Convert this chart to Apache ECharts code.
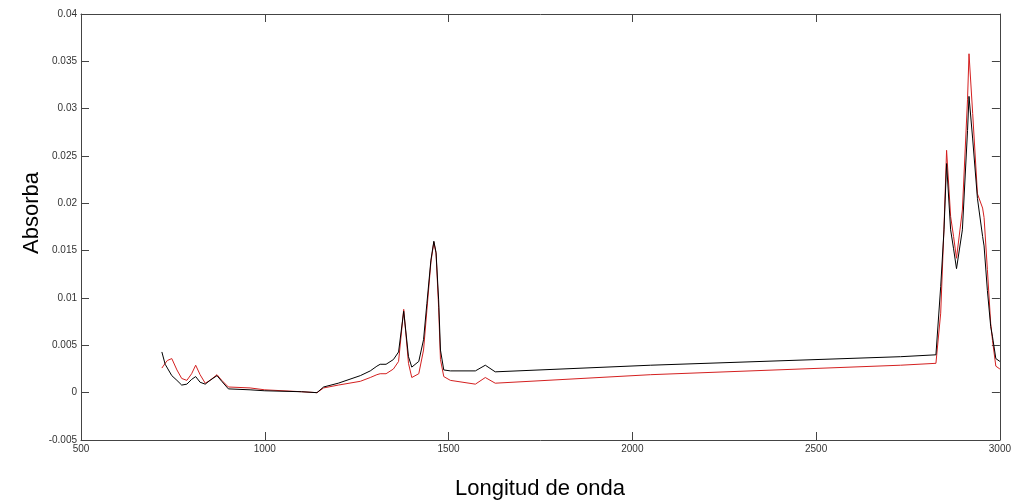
<!DOCTYPE html>
<html>
<head>
<meta charset="utf-8">
<script src="https://cdn.jsdelivr.net/npm/echarts@6/dist/echarts.min.js"></script>
<style>
  html, body { margin: 0; padding: 0; background: #fff; }
  #chart { width: 1014px; height: 500px; }
</style>
</head>
<body>
<div id="chart"></div>
<script>
// Wavenumber (Longitud de onda)
var wavenumber = [720, 729, 735, 747, 761, 774, 788, 801, 812, 824, 838, 851, 870, 883, 901, 960,
  1000, 1100, 1142, 1160, 1200, 1260, 1287, 1305, 1314, 1330, 1350, 1364, 1378, 1391, 1400, 1419,
  1432, 1441, 1452, 1460, 1466, 1473, 1478, 1487, 1505, 1573, 1600, 1627, 2050, 2730, 2826, 2839,
  2848, 2855, 2866, 2874, 2882, 2898, 2912, 2916, 2926, 2939, 2953, 2957, 2966, 2975, 2980, 2989, 3000];

// Black spectrum absorbance
var absorbanceBlack = [0.0043, 0.0030, 0.0026, 0.0018, 0.0013, 0.0008, 0.0009, 0.0014, 0.0017, 0.0011, 0.0009, 0.0013, 0.0018, 0.0012, 0.0004, 0.0003,
  0.0002, 0.0001, 0.0000, 0.0006, 0.0010, 0.0018, 0.0023, 0.0028, 0.0030, 0.0030, 0.0035, 0.0043, 0.0086, 0.0038, 0.0027, 0.0033,
  0.0056, 0.0094, 0.0140, 0.0160, 0.0148, 0.0098, 0.0045, 0.0024, 0.0023, 0.0023, 0.0029, 0.0022, 0.0029, 0.0038, 0.0040, 0.0112,
  0.0172, 0.0242, 0.0172, 0.0152, 0.0131, 0.0172, 0.0277, 0.0313, 0.0268, 0.0205, 0.0165, 0.0155, 0.0108, 0.0070, 0.0059, 0.0036, 0.0033];

// Red spectrum absorbance
var absorbanceRed = [0.0026, 0.0031, 0.0034, 0.0036, 0.0024, 0.0015, 0.0013, 0.0020, 0.0029, 0.0019, 0.0010, 0.0013, 0.0019, 0.0013, 0.0006, 0.0005,
  0.0003, 0.0001, 0.0000, 0.0005, 0.0008, 0.0012, 0.0016, 0.0019, 0.0020, 0.0020, 0.0025, 0.0033, 0.0088, 0.0031, 0.0016, 0.0020,
  0.0045, 0.0087, 0.0138, 0.0159, 0.0147, 0.0090, 0.0035, 0.0017, 0.0013, 0.0009, 0.0016, 0.0010, 0.0019, 0.0029, 0.0031, 0.0084,
  0.0175, 0.0256, 0.0186, 0.0165, 0.0142, 0.0193, 0.0310, 0.0358, 0.0295, 0.0210, 0.0195, 0.0185, 0.0130, 0.0073, 0.0055, 0.0028, 0.0025];

var xTicks = [500, 1000, 1500, 2000, 2500, 3000];
var yTicks = [-0.005, 0, 0.005, 0.01, 0.015, 0.02, 0.025, 0.03, 0.035, 0.04];

function pairs(xs, ys) {
  return xs.map(function (x, i) { return [x, ys[i]]; });
}

var axisColor = '#444444';
var labelStyle = { color: '#333333', fontSize: 10, fontFamily: 'Liberation Sans, Arial, sans-serif' };

var chart = echarts.init(document.getElementById('chart'), null, { renderer: 'canvas' });
chart.setOption({
  backgroundColor: '#ffffff',
  animation: false,
  grid: { left: 81, right: 14, top: 14, bottom: 60, containLabel: false },
  xAxis: [{
    type: 'value', min: xTicks[0], max: xTicks[xTicks.length - 1], interval: 500,
    axisLine: { show: true, onZero: false, lineStyle: { color: axisColor, width: 1 } },
    axisTick: { show: true, inside: true, length: 8, lineStyle: { color: axisColor } },
    axisLabel: Object.assign({ margin: 4, formatter: function (v) { return String(v); } }, labelStyle),
    splitLine: { show: false }
  }, {
    type: 'value', position: 'top', min: xTicks[0], max: xTicks[xTicks.length - 1], interval: 500,
    axisLine: { show: true, onZero: false, lineStyle: { color: axisColor, width: 1 } },
    axisTick: { show: true, inside: true, length: 8, lineStyle: { color: axisColor } },
    axisLabel: { show: false }, splitLine: { show: false }
  }],
  yAxis: [{
    type: 'value', min: yTicks[0], max: yTicks[yTicks.length - 1], interval: 0.005,
    axisLine: { show: true, onZero: false, lineStyle: { color: axisColor, width: 1 } },
    axisTick: { show: true, inside: true, length: 8, lineStyle: { color: axisColor } },
    axisLabel: Object.assign({ margin: 4, formatter: function (v) { return String(parseFloat(v.toFixed(3))); } }, labelStyle),
    splitLine: { show: false }
  }, {
    type: 'value', position: 'right', min: yTicks[0], max: yTicks[yTicks.length - 1], interval: 0.005,
    axisLine: { show: true, onZero: false, lineStyle: { color: axisColor, width: 1 } },
    axisTick: { show: true, inside: true, length: 8, lineStyle: { color: axisColor } },
    axisLabel: { show: false }, splitLine: { show: false }
  }],
  graphic: [{
    type: 'text', x: 540, y: 489,
    style: { text: 'Longitud de onda', fill: '#000', fontSize: 22, fontFamily: 'Liberation Sans, Arial, sans-serif',
      align: 'center', verticalAlign: 'middle' }
  }, {
    type: 'text', x: 32, y: 213, rotation: Math.PI / 2,
    style: { text: 'Absorba', fill: '#000', fontSize: 22, fontFamily: 'Liberation Sans, Arial, sans-serif',
      align: 'center', verticalAlign: 'middle' }
  }],
  series: [{
    name: 'black', type: 'line', xAxisIndex: 0, yAxisIndex: 0,
    data: pairs(wavenumber, absorbanceBlack), showSymbol: false, symbol: 'none',
    lineStyle: { color: '#000000', width: 1 }, z: 3
  }, {
    name: 'red', type: 'line', xAxisIndex: 0, yAxisIndex: 0,
    data: pairs(wavenumber, absorbanceRed), showSymbol: false, symbol: 'none',
    lineStyle: { color: '#d42020', width: 1 }, z: 2
  }]
});
</script>
</body>
</html>
